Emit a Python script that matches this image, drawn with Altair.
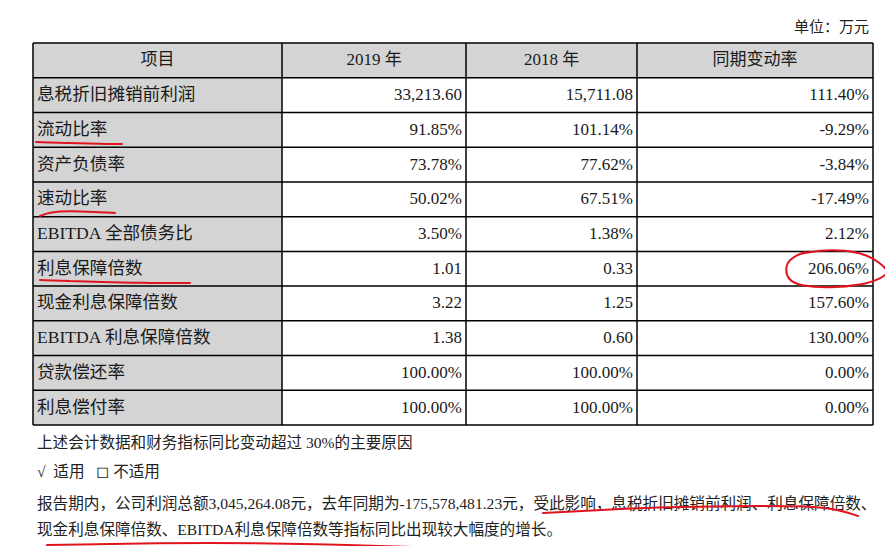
import altair as alt
import pandas as pd

# ---------------- data ----------------
headers = ["项目", "2019 年", "2018 年", "同期变动率"]
items = ["息税折旧摊销前利润", "流动比率", "资产负债率", "速动比率", "EBITDA 全部债务比",
         "利息保障倍数", "现金利息保障倍数", "EBITDA 利息保障倍数", "贷款偿还率", "利息偿付率"]
v2019 = ["33,213.60", "91.85%", "73.78%", "50.02%", "3.50%", "1.01", "3.22", "1.38", "100.00%", "100.00%"]
v2018 = ["15,711.08", "101.14%", "77.62%", "67.51%", "1.38%", "0.33", "1.25", "0.60", "100.00%", "100.00%"]
change = ["111.40%", "-9.29%", "-3.84%", "-17.49%", "2.12%", "206.06%", "157.60%", "130.00%", "0.00%", "0.00%"]
unit_label = "单位：万元"
notes = [
    "上述会计数据和财务指标同比变动超过 30%的主要原因",
    "√\u00a0\u00a0适用\u00a0\u00a0\u00a0◻\u00a0不适用",
    "报告期内，公司利润总额3,045,264.08元，去年同期为-175,578,481.23元，受此影响，息税折旧摊销前利润、利息保障倍数、",
    "现金利息保障倍数、EBITDA利息保障倍数等指标同比出现较大幅度的增长。",
]

# ---------------- layout (page pixel units) ----------------
W, H = 877, 538
col_edges = [33, 282, 466, 637, 873]
table_top = 43
row_h = 34.73
n_rows = len(items) + 1
note_x = 37
note_y = [443, 472, 504, 530]
unit_pos = (869, 27)
gray = "#d4d4d4"
ink = "#1a1a1a"
red = "#e0141e"
font_tbl = "Liberation Serif, Noto Sans CJK SC"
font_note = "Liberation Serif, Noto Sans CJK SC"

# hand-drawn red annotation strokes (page pixel coordinates)
strokes = {
    "u1": [(36, 142), (70, 143), (100, 144), (122, 144)],
    "u2": [(40, 216), (50, 212), (70, 211), (95, 212), (115, 213)],
    "u3": [(40, 280), (70, 281), (100, 282), (140, 283), (190, 283)],
    "circle": [(805, 252), (790, 258), (785, 268), (788, 280), (800, 286), (830, 288),
               (862, 285), (880, 279), (890, 272), (880, 263), (868, 255), (845, 250),
               (820, 250), (800, 254)],
    "p1": [(543, 513), (600, 510), (667, 507), (733, 506), (800, 506), (833, 508), (858, 516)],
    "p2": [(47, 545), (153, 543), (287, 543), (420, 547), (507, 551), (540, 552)],
}

# ---------------- build tables ----------------
xs = alt.Scale(domain=[8, 8 + W], range=[0, W], zero=False, nice=False)
ys = alt.Scale(domain=[8, 8 + H], range=[0, H], zero=False, nice=False)

def row_top(i):
    return table_top + row_h * i

cells = []
for r in range(n_rows):
    for c in range(4):
        fill = gray if (r == 0 or c == 0) else "#ffffff"
        cells.append(dict(x=col_edges[c], x2=col_edges[c + 1], y=row_top(r), y2=row_top(r + 1), fill=fill))
cells = pd.DataFrame(cells)

rules = []
for c in col_edges:
    rules.append(dict(x=c, x2=c, y=table_top, y2=row_top(n_rows)))
for r in range(n_rows + 1):
    rules.append(dict(x=col_edges[0], x2=col_edges[-1], y=row_top(r), y2=row_top(r)))
rules = pd.DataFrame(rules)

hdr = pd.DataFrame([dict(x=(col_edges[c] + col_edges[c + 1]) / 2, y=row_top(0.5), t=headers[c]) for c in range(4)])
lab = pd.DataFrame([dict(x=col_edges[0] + 4, y=row_top(i + 1.5), t=items[i]) for i in range(len(items))])
vals = []
for i in range(len(items)):
    for c, col in zip([1, 2, 3], [v2019, v2018, change]):
        vals.append(dict(x=col_edges[c + 1] - 4, y=row_top(i + 1.5), t=col[i]))
vals = pd.DataFrame(vals)

note_df = pd.DataFrame([dict(x=note_x, y=note_y[i], t=notes[i]) for i in range(len(notes))])
unit_df = pd.DataFrame([dict(x=unit_pos[0], y=unit_pos[1], t=unit_label)])

ann = []
for k, pts in strokes.items():
    for j, (px, py) in enumerate(pts):
        ann.append(dict(id=k, o=j, x=px, y=py))
ann = pd.DataFrame(ann)

X = lambda f="x": alt.X(f"{f}:Q", scale=xs, axis=None)
Y = lambda f="y": alt.Y(f"{f}:Q", scale=ys, axis=None)

rect_layer = alt.Chart(cells).mark_rect(strokeWidth=0).encode(
    x=X(), x2="x2:Q", y=Y(), y2="y2:Q", fill=alt.Fill("fill:N", scale=None))

rule_layer = alt.Chart(rules).mark_rule(color="#000000", strokeWidth=1.5).encode(
    x=X(), x2="x2:Q", y=Y(), y2="y2:Q")

def text_layer(df, align, size, font, color=ink):
    return alt.Chart(df).mark_text(align=align, baseline="middle", fontSize=size, font=font, color=color).encode(
        x=X(), y=Y(), text="t:N")

hdr_layer = text_layer(hdr, "center", 17, font_tbl)
lab_layer = text_layer(lab, "left", 17.6, font_tbl)
val_layer = text_layer(vals, "right", 17, font_tbl)
note_layer = text_layer(note_df, "left", 15.6, font_note, "#222222")
unit_layer = text_layer(unit_df, "right", 15, font_note, "#222222")

ann_layer = alt.Chart(ann).mark_line(color=red, strokeWidth=2, interpolate="basis", strokeCap="round").encode(
    x=X(), y=Y(), detail="id:N", order="o:Q")

chart = alt.layer(rect_layer, rule_layer, hdr_layer, lab_layer, val_layer, note_layer, unit_layer, ann_layer).properties(
    width=W, height=H, padding=0, autosize=alt.AutoSizeParams(type="none"), background="#ffffff"
).configure_view(stroke=None)

chart.save("out.html", embed_options={"renderer": "svg", "actions": False})
